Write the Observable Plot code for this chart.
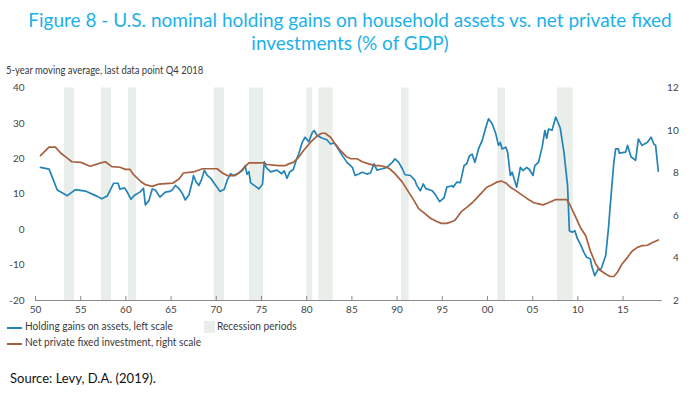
<!DOCTYPE html>
<html>
<head>
<meta charset="utf-8">
<script src="https://cdn.jsdelivr.net/npm/d3@7"></script>
<script src="https://cdn.jsdelivr.net/npm/@observablehq/plot@0.6"></script>
<style>
  html, body { margin: 0; padding: 0; background: #fff; }
  #wrap { position: relative; width: 700px; height: 394px; overflow: hidden; font-family: Lato, "Noto Sans", sans-serif; }
  #title { position: absolute; top: 9px; left: 0; width: 700px; text-align: center; color: #1bb1ea;
           font-size: 19px; line-height: 22.5px; font-family: Lato, "Open Sans", sans-serif; }
  .cond { position: absolute; white-space: nowrap; transform-origin: 0 50%; color: #3a3a3a; }
  .sub { transform: scaleX(0.9); font-size: 10.5px; }
  .leg { transform: scaleX(0.92); font-size: 11px; }
  #chart { position: absolute; top: 80px; left: 0; }
  .sw { position: absolute; height: 2px; width: 15px; }
  #source { position: absolute; left: 10px; top: 370px; font-size: 13px; color: #111; }
</style>
</head>
<body>
<div id="wrap">
  <div id="title"></div>
  <div id="subtitle" class="cond sub" style="left:6px; top:64px;"></div>
  <div id="chart"></div>
  <div class="sw" id="swBlue" style="left:7px; top:327px;"></div>
  <div id="leg1" class="cond leg" style="left:25px; top:319px;"></div>
  <div id="swRec" style="position:absolute; left:204px; top:321px; width:11px; height:12px;"></div>
  <div id="leg3" class="cond leg" style="left:217px; top:319px;"></div>
  <div class="sw" id="swBrown" style="left:7px; top:343px;"></div>
  <div id="leg2" class="cond leg" style="left:25px; top:335px;"></div>
  <div id="source"></div>
</div>
<script>
// ---- texts ----
const titleLines = ["Figure 8 - U.S. nominal holding gains on household assets vs. net private fixed", "investments (% of GDP)"];
const subtitleText = "5-year moving average, last data point Q4 2018";
const legendLabels = ["Holding gains on assets, left scale", "Net private fixed investment, right scale", "Recession periods"];
const sourceText = "Source: Levy, D.A. (2019).";

// ---- tick labels ----
const xTicks = [1950, 1955, 1960, 1965, 1970, 1975, 1980, 1985, 1990, 1995, 2000, 2005, 2010, 2015];
const leftTicks = [-20, -10, 0, 10, 20, 30, 40];
const rightTicks = [2, 4, 6, 8, 10, 12];

// ---- recession periods [start, end] ----
const recessionStart = [1953.21, 1957.30, 1960.29, 1969.77, 1973.67, 1980.01, 1981.34, 1990.49, 2001.14, 2007.74];
const recessionEnd   = [1954.31, 1958.41, 1961.17, 1970.91, 1975.22, 1980.67, 1982.93, 1991.34, 2001.99, 2009.48];

// ---- Holding gains on assets (% of GDP, left scale) ----
const gainsYear = [1950.55,1951.5,1952.41,1953.52,1954.42,1955.52,1956.83,1957.33,1957.93,1958.64,1959.14,1959.34,1959.84,1960.14,1960.55,1960.95,1961.55,1961.95,1962.15,1962.55,1962.91,1963.26,1963.76,1964.36,1964.87,1965.17,1965.47,1965.87,1966.27,1966.57,1966.97,1967.38,1967.48,1967.78,1968.08,1968.38,1968.68,1968.98,1969.39,1969.69,1970.09,1970.39,1970.89,1971.19,1971.59,1971.8,1972.3,1972.9,1973.2,1973.4,1973.6,1973.8,1974.2,1974.71,1975.11,1975.31,1975.51,1976.01,1976.72,1977.22,1977.52,1977.82,1978.12,1978.52,1978.83,1979.13,1979.53,1979.83,1980.23,1980.63,1980.83,1981.14,1981.74,1982.24,1982.64,1983.04,1983.35,1983.95,1984.45,1985.05,1985.36,1985.76,1986.16,1986.66,1987.06,1987.46,1987.77,1988.37,1988.87,1989.47,1989.77,1990.18,1990.58,1990.88,1991.48,1991.98,1992.18,1992.58,1992.89,1993.19,1993.89,1994.29,1994.7,1995.2,1995.5,1996.1,1996.2,1996.6,1997.0,1997.41,1997.71,1998.01,1998.31,1998.61,1999.01,1999.42,1999.82,2000.12,2000.52,2000.92,2001.22,2001.42,2001.62,2002.03,2002.23,2002.53,2002.73,2003.23,2003.64,2003.94,2004.34,2004.64,2005.04,2005.24,2005.64,2006.05,2006.35,2006.55,2006.75,2007.15,2007.55,2008.05,2008.46,2008.86,2009.06,2009.36,2009.66,2009.96,2010.26,2010.67,2010.97,2011.37,2011.57,2011.87,2012.07,2012.27,2012.47,2012.67,2013.08,2013.38,2013.58,2013.98,2014.18,2014.48,2014.58,2015.29,2015.49,2015.89,2016.39,2016.69,2017.1,2017.7,2018.1,2018.4,2018.6,2018.9];
const gainsValue = [17.6,17.1,11.2,9.6,11.3,10.9,9.4,8.7,9.5,13.1,13.1,11.4,11.8,10.7,8.6,9.7,10.6,11.7,7.0,8.2,11.5,11.2,9.2,10.6,10.8,11.3,12.5,11.6,10.1,8.4,9.8,13.9,15.3,13.4,12.5,14.2,16.8,15.4,14.5,13.4,12.0,10.8,11.4,13.9,15.8,15.3,15.7,16.7,18.1,15.6,16.4,13.2,12.5,11.5,12.8,19.2,17.6,16.3,16.8,15.8,16.6,14.5,16.3,17.0,19.5,21.5,24.8,26.1,24.8,27.5,28.0,26.6,25.8,25.4,24.2,24.5,23.3,20.9,19.0,17.6,15.3,15.7,16.2,15.7,16.0,18.6,16.8,17.2,17.6,19.0,20.0,19.0,17.2,15.5,15.3,13.9,12.5,11.0,12.9,11.6,11.0,9.7,7.9,9.0,12.0,12.4,12.0,13.4,13.3,18.1,18.6,20.9,21.3,19.0,22.8,25.2,28.9,31.3,29.9,27.1,23.8,24.6,22.8,23.3,21.9,15.3,16.2,12.0,17.6,16.7,17.6,17.0,15.3,18.1,19.0,23.3,28.0,25.8,28.4,28.1,31.8,28.7,21.9,12.5,-0.3,-0.7,-0.3,-2.6,-4.0,-6.4,-7.8,-8.2,-10.6,-13.0,-12.0,-11.0,-11.5,-10.4,-7.3,0.2,6.8,19.0,22.8,22.8,21.6,21.9,23.8,20.5,19.6,25.6,23.8,24.7,26.1,24.2,23.8,16.5];

// ---- Net private fixed investment (% of GDP, right scale) ----
const investYear = [1950.55,1951.1,1951.5,1952.2,1952.81,1953.52,1954.02,1955.02,1956.03,1956.83,1957.23,1957.73,1958.44,1959.34,1959.94,1960.45,1960.85,1961.65,1962.15,1962.91,1963.66,1964.36,1965.17,1965.87,1966.37,1967.48,1968.48,1970.09,1970.69,1971.19,1972.09,1972.5,1973.6,1975.21,1975.61,1976.92,1977.62,1978.02,1978.52,1979.13,1979.63,1980.43,1981.14,1981.64,1982.04,1982.64,1983.15,1983.75,1984.45,1984.85,1985.56,1986.16,1986.86,1987.57,1988.07,1988.87,1989.17,1989.77,1990.58,1991.28,1991.88,1992.38,1993.19,1993.69,1994.39,1994.9,1995.5,1996.1,1996.4,1996.8,1997.1,1997.71,1998.31,1998.81,1999.42,1999.92,2000.52,2001.02,2001.52,2002.03,2002.53,2003.13,2003.64,2004.44,2005.14,2005.64,2006.15,2006.75,2007.55,2008.76,2009.16,2009.76,2010.26,2010.87,2011.37,2011.97,2012.47,2013.08,2013.58,2013.98,2014.38,2014.89,2015.49,2015.99,2016.59,2017.1,2017.7,2018.2,2018.9];
const investValue = [8.82,9.05,9.22,9.22,8.93,8.70,8.53,8.50,8.32,8.42,8.48,8.53,8.30,8.27,8.17,8.17,7.92,7.60,7.45,7.37,7.48,7.50,7.52,7.72,8.00,8.05,8.20,8.20,8.00,7.88,7.88,8.00,8.48,8.48,8.40,8.35,8.35,8.43,8.50,8.75,9.05,9.45,9.73,9.87,9.87,9.68,9.37,9.05,8.75,8.68,8.67,8.53,8.43,8.35,8.35,8.27,8.20,7.97,7.57,7.10,6.70,6.32,6.05,5.87,5.72,5.63,5.63,5.72,5.78,6.00,6.18,6.38,6.60,6.82,7.10,7.33,7.45,7.57,7.62,7.53,7.33,7.17,7.02,6.78,6.60,6.55,6.50,6.60,6.75,6.75,6.47,5.92,5.45,5.05,4.35,3.72,3.42,3.25,3.13,3.13,3.33,3.72,4.03,4.32,4.50,4.58,4.60,4.72,4.85];

// ---- colours ----
const blue = "#2383b7";
const brown = "#a7603e";
const bandFill = "#e9eeea";

// dual-axis mapping: right scale [2,12] shares the frame with left scale [-20,40]
const leftDomain = [-20, 40];
const rightDomain = [2, 12];
const rightToLeft = v => leftDomain[0] + (v - rightDomain[0]) * (leftDomain[1] - leftDomain[0]) / (rightDomain[1] - rightDomain[0]);
const leftToRight = v => rightDomain[0] + (v - leftDomain[0]) * (rightDomain[1] - rightDomain[0]) / (leftDomain[1] - leftDomain[0]);

const gains = gainsYear.map((y, i) => ({year: y, value: gainsValue[i]}));
const invest = investYear.map((y, i) => ({year: y, value: investValue[i]}));
const recessions = recessionStart.map((s, i) => ({start: s, end: recessionEnd[i]}));

const plot = Plot.plot({
  width: 700,
  height: 240,
  marginTop: 7.5,
  marginBottom: 20,
  marginLeft: 35,
  marginRight: 38.3,
  style: {fontFamily: "Lato, 'Noto Sans', sans-serif", fontSize: "10px", color: "#444", background: "transparent", overflow: "visible"},
  x: {domain: [1950, 2019.33]},
  y: {domain: leftDomain},
  marks: [
    Plot.rect(recessions, {x1: "start", x2: "end", fill: bandFill}),
    Plot.ruleY([leftDomain[0]], {stroke: "#8a8a8a", strokeWidth: 1}),
    Plot.axisX({ticks: xTicks, tickSize: -4, tickPadding: 9, stroke: "#8a8a8a", tickFormat: d => String(d).slice(2), label: null}),
    Plot.axisY({anchor: "left", ticks: leftTicks, tickSize: 0, tickPadding: 11, tickFormat: d => String(d), label: null}),
    Plot.axisY({anchor: "right", ticks: rightTicks.map(rightToLeft), tickSize: 0, tickPadding: 16.5, textAnchor: "end",
                tickFormat: d => String(Math.round(leftToRight(d))), label: null}),
    Plot.line(gains, {x: "year", y: "value", stroke: blue, strokeWidth: 1.7}),
    Plot.line(invest, {x: "year", y: d => rightToLeft(d.value), stroke: brown, strokeWidth: 1.7})
  ]
});
document.getElementById("chart").append(plot);

document.getElementById("title").innerHTML = titleLines.join("<br>");
document.getElementById("subtitle").textContent = subtitleText;
document.getElementById("leg1").textContent = legendLabels[0];
document.getElementById("leg2").textContent = legendLabels[1];
document.getElementById("leg3").textContent = legendLabels[2];
document.getElementById("swBlue").style.background = blue;
document.getElementById("swBrown").style.background = brown;
document.getElementById("swRec").style.background = bandFill;
document.getElementById("source").textContent = sourceText;
</script>
</body>
</html>
